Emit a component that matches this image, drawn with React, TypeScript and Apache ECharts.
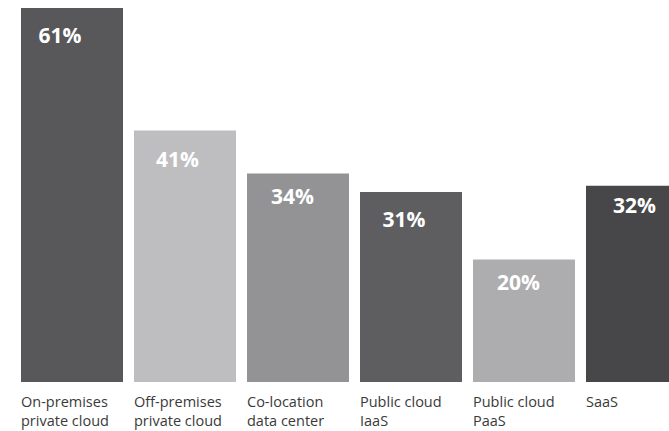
import React, { useEffect, useRef } from "react";
import * as echarts from "echarts";

const categories = [
  "On-premises\nprivate cloud",
  "Off-premises\nprivate cloud",
  "Co-location\ndata center",
  "Public cloud\nIaaS",
  "Public cloud\nPaaS",
  "SaaS",
];
const values = [61, 41, 34, 31, 20, 32];
const colors = ["#58585a", "#bebec0", "#939396", "#5e5e60", "#adadaf", "#474749"];
const labelOffsets = [
  [-12, 11.5],
  [-7.5, 12.5],
  [-5.5, 6.5],
  [-7, 12],
  [-5.5, 7.5],
  [-2.5, 3.5],
];

export default function App() {
  const ref = useRef<HTMLDivElement>(null);
  useEffect(() => {
    if (!ref.current) return;
    const chart = echarts.init(ref.current, null, { renderer: "svg" });
    chart.setOption({
      animation: false,
      grid: { left: 15.5, right: 6.5, top: 8, bottom: 49, containLabel: false },
      xAxis: {
        type: "category",
        data: categories,
        axisLine: { show: false },
        axisTick: { show: false },
        axisLabel: {
          interval: 0,
          margin: 10,
          width: 102,
          align: "center",
          formatter: (v: string) =>
            v
              .split("\n")
              .map((s) => "{a|" + s + "}")
              .join("\n"),
          rich: {
            a: {
              align: "left",
              fontFamily: "Open Sans",
              fontSize: 14.5,
              lineHeight: 19,
              color: "#3a3a3a",
            },
          },
        },
      },
      yAxis: {
        type: "value",
        min: 0,
        max: 61,
        show: false,
        splitLine: { show: false },
      },
      series: [
        {
          type: "bar",
          barWidth: 102,
          data: values.map((v, i) => ({
            value: v,
            itemStyle: { color: colors[i] },
            label: { offset: labelOffsets[i] },
          })),
          label: {
            show: true,
            position: "insideTop",
            formatter: "{c}%",
            color: "#ffffff",
            fontFamily: "Open Sans",
            fontWeight: "bold",
            fontSize: 21,
          },
        },
      ],
    });
    return () => chart.dispose();
  }, []);
  return (
    <div style={{ position: "absolute", left: 0, top: 0, width: 669, height: 431, overflow: "hidden" }}>
      <div ref={ref} style={{ width: 700, height: 431 }} />
    </div>
  );
}
